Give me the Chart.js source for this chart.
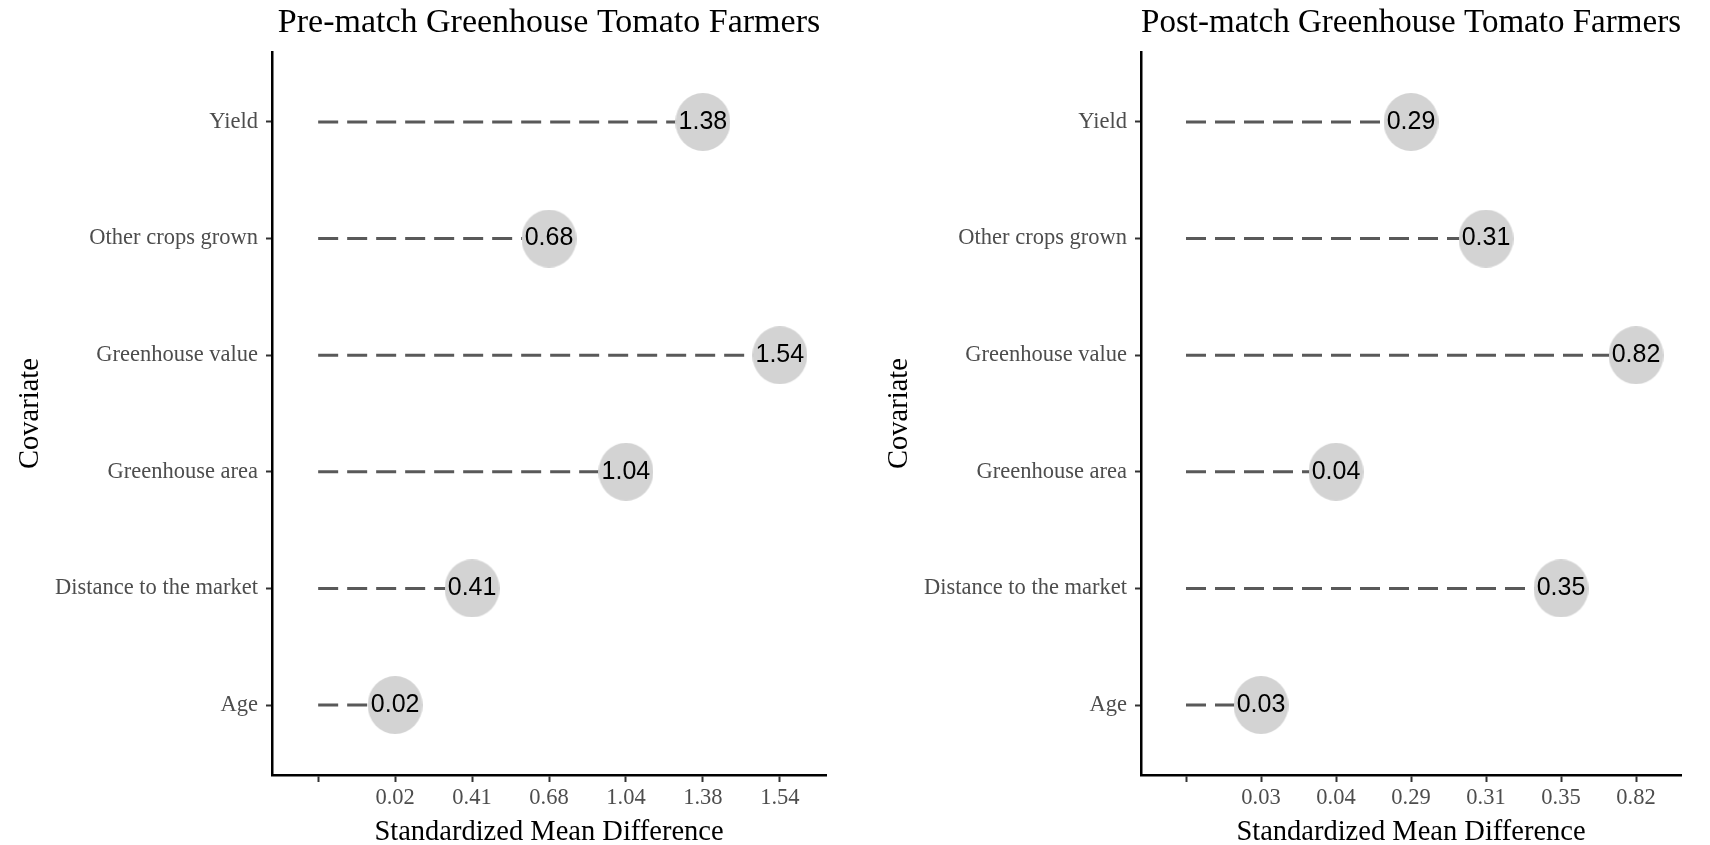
<!DOCTYPE html>
<html>
<head>
<meta charset="utf-8">
<script src="https://cdn.jsdelivr.net/npm/chart.js@4"></script>
<style>
  body { margin: 0; background: #fff; }
  canvas { position: absolute; top: 0; }
  #preCanvas { left: 0; }
  #postCanvas { left: 855px; }
</style>
</head>
<body>
<canvas id="preCanvas" width="855" height="845"></canvas>
<canvas id="postCanvas" width="855" height="845"></canvas>
<script>
const covariates = ['Yield', 'Other crops grown', 'Greenhouse value', 'Greenhouse area', 'Distance to the market', 'Age'];
const preValues = [1.38, 0.68, 1.54, 1.04, 0.41, 0.02];
const postValues = [0.29, 0.31, 0.82, 0.04, 0.35, 0.03];
const preTicks = ['', '0.02', '0.41', '0.68', '1.04', '1.38', '1.54'];
const postTicks = ['', '0.03', '0.04', '0.29', '0.31', '0.35', '0.82'];

const serif = '"Liberation Serif", "Times New Roman", serif';

// value labels on top of the grey dots
const dotLabels = {
    id: 'dotLabels',
    afterDatasetsDraw(chart) {
        const ctx = chart.ctx;
        chart.data.datasets.forEach((ds, di) => {
            if (!ds.isDots) return;
            chart.getDatasetMeta(di).data.forEach((pt, i) => {
                ctx.save();
                ctx.font = '25px "Liberation Sans", Arial, sans-serif';
                ctx.fillStyle = '#000';
                ctx.textAlign = 'center';
                ctx.textBaseline = 'middle';
                ctx.fillText(ds.data[i].v.toFixed(2), pt.x, pt.y);
                ctx.restore();
            });
        });
    }
};

// slightly taller-than-wide grey dot, like the original
const dot = document.createElement('canvas');
dot.width = 55;
dot.height = 58;
const dctx = dot.getContext('2d');
dctx.fillStyle = '#d3d3d3';
dctx.beginPath();
dctx.ellipse(27.5, 29, 27.5, 29, 0, 0, Math.PI * 2);
dctx.fill();

function makeChart(id, title, values, tickLabels, yWidth, rightPad, yTitlePad) {
    const pos = values.map(v => tickLabels.indexOf(v.toFixed(2)));
    const datasets = [];
    covariates.forEach((c, i) => {
        datasets.push({
            data: [{x: 0, y: i}, {x: pos[i], y: i}],
            showLine: true,
            borderColor: '#595959',
            borderWidth: 3,
            borderDash: [20, 9],
            pointRadius: 0,
            order: 1
        });
    });
    datasets.push({
        isDots: true,
        data: values.map((v, i) => ({x: pos[i], y: i, v: v})),
        pointStyle: dot,
        pointRadius: 28,
        order: 0
    });

    return new Chart(document.getElementById(id), {
        type: 'scatter',
        data: { datasets: datasets },
        plugins: [dotLabels],
        options: {
            responsive: false,
            animation: false,
            layout: { padding: { left: 0, right: rightPad, top: 0, bottom: 0 } },
            plugins: {
                legend: { display: false },
                tooltip: { enabled: false },
                title: {
                    display: true,
                    text: title,
                    fullSize: false,
                    color: '#000',
                    font: { family: serif, size: 34, weight: 'normal', lineHeight: 1.2 },
                    padding: { top: 3, bottom: 8.2 }
                }
            },
            scales: {
                x: {
                    type: 'linear',
                    min: -0.6,
                    max: tickLabels.length - 0.4,
                    afterBuildTicks: s => { s.ticks = tickLabels.map((_, i) => ({value: i})); },
                    afterFit: s => { s.height = 70; },
                    ticks: {
                        callback: v => tickLabels[v],
                        color: '#4d4d4d',
                        font: { family: serif, size: 22.5 },
                        padding: 3,
                        maxRotation: 0,
                        autoSkip: false
                    },
                    grid: { drawOnChartArea: false, drawTicks: true, tickLength: 7, tickColor: '#333', tickWidth: 2 },
                    border: { display: true, color: '#000', width: 2.5 },
                    title: {
                        display: true,
                        text: 'Standardized Mean Difference',
                        color: '#000',
                        font: { family: serif, size: 28.5, lineHeight: 0.85 },
                        padding: { top: 0, bottom: 0 }
                    }
                },
                y: {
                    type: 'linear',
                    reverse: true,
                    min: -0.6,
                    max: covariates.length - 0.4,
                    afterBuildTicks: s => { s.ticks = covariates.map((_, i) => ({value: i})); },
                    afterFit: s => { s.width = yWidth; },
                    ticks: {
                        callback: v => covariates[v],
                        color: '#4d4d4d',
                        font: { family: serif, size: 22.5 },
                        padding: 8,
                        autoSkip: false
                    },
                    grid: { drawOnChartArea: false, drawTicks: true, tickLength: 6, tickColor: '#333', tickWidth: 2 },
                    border: { display: true, color: '#000', width: 2.5 },
                    title: {
                        display: true,
                        text: 'Covariate',
                        color: '#000',
                        font: { family: serif, size: 28.5, lineHeight: 1.2 },
                        padding: { top: yTitlePad, bottom: 0 }
                    }
                }
            }
        }
    });
}

makeChart('preCanvas', 'Pre-match Greenhouse Tomato Farmers', preValues, preTicks, 272, 26, 13);
makeChart('postCanvas', 'Post-match Greenhouse Tomato Farmers', postValues, postTicks, 286, 7, 27);
</script>
</body>
</html>
